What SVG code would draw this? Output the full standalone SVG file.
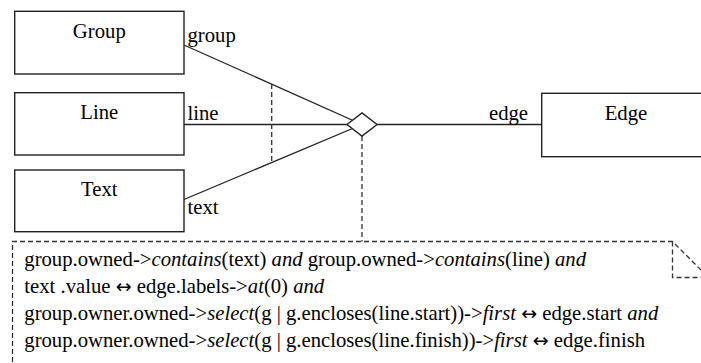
<svg xmlns="http://www.w3.org/2000/svg" width="701" height="363" viewBox="0 0 701 363">
<style>
.box{fill:#fff;stroke:#222;stroke-width:1.4}
.ln{fill:none;stroke:#222;stroke-width:1.3}
.dash{fill:none;stroke:#333;stroke-width:1.3;stroke-dasharray:5,3}
.t{font-family:'Liberation Serif';font-size:20.7px;fill:#000}
.c{text-anchor:middle}
.i{font-style:italic}
.a{font-family:'DejaVu Sans';font-size:19px}
</style>
<rect width="701" height="363" fill="#fff"/>
<g id="connectors">
<line class="ln" x1="184" y1="45" x2="362" y2="124.5"/>
<line class="ln" x1="184" y1="124.5" x2="362" y2="124.5"/>
<line class="ln" x1="184" y1="199.5" x2="362" y2="124.5"/>
<line class="ln" x1="377" y1="124.5" x2="541.5" y2="124.5"/>
<line class="dash" x1="271.7" y1="84" x2="271.7" y2="163"/>
<line class="dash" x1="362" y1="136" x2="362" y2="241.5"/>
<text class="t" x="187.5" y="41.5">group</text>
<text class="t" x="187.5" y="119.5">line</text>
<text class="t" x="187.5" y="213.5">text</text>
<text class="t" x="489" y="120">edge</text>
</g>
<g id="diamond">
<polygon class="box" points="347,124.5 362,113 377,124.5 362,136"/>
</g>
<g id="group">
<rect class="box" x="14.7" y="11.3" width="169.3" height="62.7"/>
<text class="t c" x="99.3" y="37.5">Group</text>
</g>
<g id="line">
<rect class="box" x="14.7" y="92.7" width="169.3" height="62.3"/>
<text class="t c" x="99.3" y="119.3">Line</text>
</g>
<g id="text">
<rect class="box" x="14.7" y="170" width="169.3" height="61.7"/>
<text class="t c" x="99.3" y="195.5">Text</text>
</g>
<g id="edge">
<rect class="box" x="541.7" y="93.3" width="169.3" height="63.4"/>
<text class="t c" x="626" y="120">Edge</text>
</g>
<g id="note">
<path class="dash" d="M12.5,370 V241.5 H672.5 L708.5,277.5 V370"/>
<path class="dash" d="M672.5,241.5 V277.5 H708.5"/>
<text class="t" x="24.3" y="266">group.owned-&gt;<tspan class="i">contains</tspan>(text) <tspan class="i">and</tspan> group.owned-&gt;<tspan class="i">contains</tspan>(line) <tspan class="i">and</tspan></text>
<text class="t" x="24.3" y="293">text .value <tspan class="a">↔</tspan> edge.labels-&gt;<tspan class="i">at</tspan>(0) <tspan class="i">and</tspan></text>
<text class="t" x="24.3" y="320">group.owner.owned-&gt;<tspan class="i">select</tspan>(g | g.encloses(line.start))-&gt;<tspan class="i">first</tspan> <tspan class="a">↔</tspan> edge.start <tspan class="i">and</tspan></text>
<text class="t" x="24.3" y="347">group.owner.owned-&gt;<tspan class="i">select</tspan>(g | g.encloses(line.finish))-&gt;<tspan class="i">first</tspan> <tspan class="a">↔</tspan> edge.finish</text>
</g>
</svg>
